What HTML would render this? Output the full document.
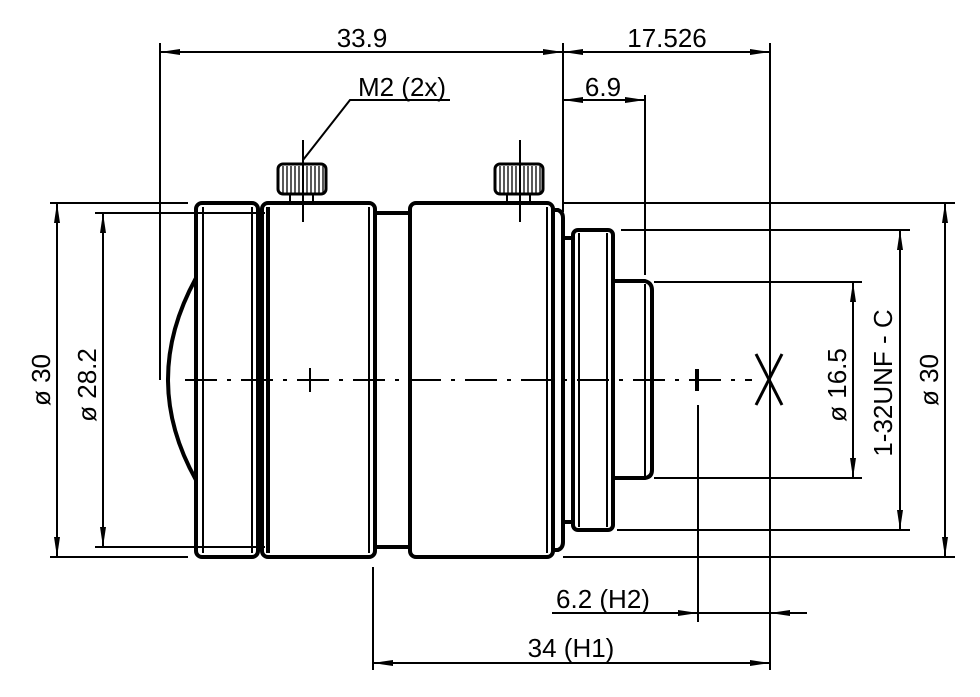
<!DOCTYPE html>
<html><head><style>body{margin:0;background:#fff}svg{display:block}text{font-family:"Liberation Sans",sans-serif;font-size:26px;fill:#000}</style></head>
<body>
<svg width="980" height="697" viewBox="0 0 980 697" xmlns="http://www.w3.org/2000/svg">
<defs>
<marker id="a" viewBox="0 0 20 8" refX="20" refY="4" markerWidth="20" markerHeight="8" markerUnits="userSpaceOnUse" orient="auto-start-reverse"><path d="M0,1 L20,4 L0,7z" fill="#000"/></marker>
</defs>
<g stroke="#000" stroke-width="2" fill="none">
<line x1="160" y1="43" x2="160" y2="380"/>
<line x1="563" y1="43" x2="563" y2="212"/>
<line x1="770" y1="43" x2="770" y2="670"/>
<line x1="645" y1="95" x2="645" y2="275"/>
<line x1="373" y1="567" x2="373" y2="670"/>
<line x1="698" y1="405" x2="698" y2="622"/>
<line x1="50" y1="203" x2="188" y2="203"/>
<line x1="95" y1="213" x2="265" y2="213"/>
<line x1="95" y1="547" x2="265" y2="547"/>
<line x1="50" y1="557" x2="188" y2="557"/>
<line x1="563" y1="203" x2="955" y2="203"/>
<line x1="621" y1="230" x2="910" y2="230"/>
<line x1="654" y1="282" x2="862" y2="282"/>
<line x1="654" y1="478" x2="862" y2="478"/>
<line x1="617" y1="530" x2="910" y2="530"/>
<line x1="563" y1="557" x2="955" y2="557"/>
<line x1="160" y1="52" x2="563" y2="52" marker-start="url(#a)" marker-end="url(#a)"/>
<line x1="563" y1="52" x2="770" y2="52" marker-start="url(#a)" marker-end="url(#a)"/>
<line x1="563" y1="100" x2="645" y2="100" marker-start="url(#a)" marker-end="url(#a)"/>
<line x1="57" y1="203" x2="57" y2="557" marker-start="url(#a)" marker-end="url(#a)"/>
<line x1="103" y1="213" x2="103" y2="547" marker-start="url(#a)" marker-end="url(#a)"/>
<line x1="853" y1="282" x2="853" y2="478" marker-start="url(#a)" marker-end="url(#a)"/>
<line x1="900" y1="230" x2="900" y2="530" marker-start="url(#a)" marker-end="url(#a)"/>
<line x1="945" y1="203" x2="945" y2="557" marker-start="url(#a)" marker-end="url(#a)"/>
<line x1="373" y1="663" x2="770" y2="663" marker-start="url(#a)" marker-end="url(#a)"/>
<line x1="552" y1="613" x2="698" y2="613" marker-end="url(#a)"/>
<line x1="807" y1="613" x2="770" y2="613" marker-end="url(#a)"/>
<line x1="698" y1="613" x2="770" y2="613"/>
<polyline points="303,160 350,100 450,100"/>
<line x1="185" y1="380" x2="752" y2="380" stroke-dasharray="32,10,4,10"/>
<line x1="310" y1="368" x2="310" y2="392"/>
<line x1="697" y1="369" x2="697" y2="391" stroke-width="4"/>
<line x1="756" y1="354" x2="782" y2="405" stroke-width="3"/>
<line x1="782" y1="354" x2="756" y2="405" stroke-width="3"/>
<line x1="303" y1="140" x2="303" y2="222"/>
<line x1="520" y1="140" x2="520" y2="222"/>
</g>
<g stroke="#000" stroke-width="4" fill="none">
<path d="M196,278 Q140,380 196,480"/>
<rect x="196" y="203" width="62" height="354" rx="6"/>
<line x1="203" y1="207" x2="203" y2="553" stroke-width="2"/>
<line x1="252" y1="207" x2="252" y2="553" stroke-width="2"/>
<rect x="262" y="203" width="113" height="354" rx="6"/>
<line x1="268" y1="207" x2="268" y2="553"/>
<line x1="369" y1="207" x2="369" y2="553" stroke-width="2"/>
<line x1="375" y1="213" x2="410" y2="213"/>
<line x1="375" y1="547" x2="410" y2="547"/>
<rect x="410" y="203" width="143" height="354" rx="6"/>
<line x1="547" y1="207" x2="547" y2="553" stroke-width="2"/>
<path d="M553,210 L558,210 Q563,212 563,218 L563,542 Q563,548 558,550 L553,550"/>
<path d="M563,238 L573,238 M563,522 L573,522"/>
<rect x="573" y="230" width="40" height="300" rx="5"/>
<line x1="579" y1="233" x2="579" y2="527" stroke-width="2"/>
<line x1="607" y1="233" x2="607" y2="527" stroke-width="2"/>
<path d="M613,281 L645,281 Q652,283 652,290 L652,470 Q652,477 645,478 L613,478"/>
<line x1="645" y1="284" x2="645" y2="476" stroke-width="2"/>
</g>
<g stroke="#000" stroke-width="2" fill="none">
<rect x="278" y="164" width="48" height="30" rx="5" stroke-width="3"/>
<path d="M283,166v27M287,166v27M291,166v27M295,166v27M299,166v27M307,166v27M311,166v27M315,166v27M319,166v27M323,166v27" stroke-width="1.3"/>
<path d="M290,194v9M313,194v9"/>
<rect x="495" y="164" width="48" height="30" rx="5" stroke-width="3"/>
<path d="M500,166v27M504,166v27M508,166v27M512,166v27M516,166v27M524,166v27M528,166v27M532,166v27M536,166v27M540,166v27" stroke-width="1.3"/>
<path d="M507,194v9M530,194v9"/>
</g>
<text x="362" y="47" text-anchor="middle">33.9</text>
<text x="667" y="47" text-anchor="middle">17.526</text>
<text x="603" y="96" text-anchor="middle">6.9</text>
<text x="402" y="96" text-anchor="middle">M2 (2x)</text>
<text x="603" y="608" text-anchor="middle">6.2 (H2)</text>
<text x="571" y="657" text-anchor="middle">34 (H1)</text>
<text transform="translate(50,380) rotate(-90)" text-anchor="middle">ø 30</text>
<text transform="translate(96,385) rotate(-90)" text-anchor="middle">ø 28.2</text>
<text transform="translate(846,385) rotate(-90)" text-anchor="middle">ø 16.5</text>
<text transform="translate(892,383) rotate(-90)" text-anchor="middle">1-32UNF - C</text>
<text transform="translate(938,380) rotate(-90)" text-anchor="middle">ø 30</text>
</svg>
</body></html>
